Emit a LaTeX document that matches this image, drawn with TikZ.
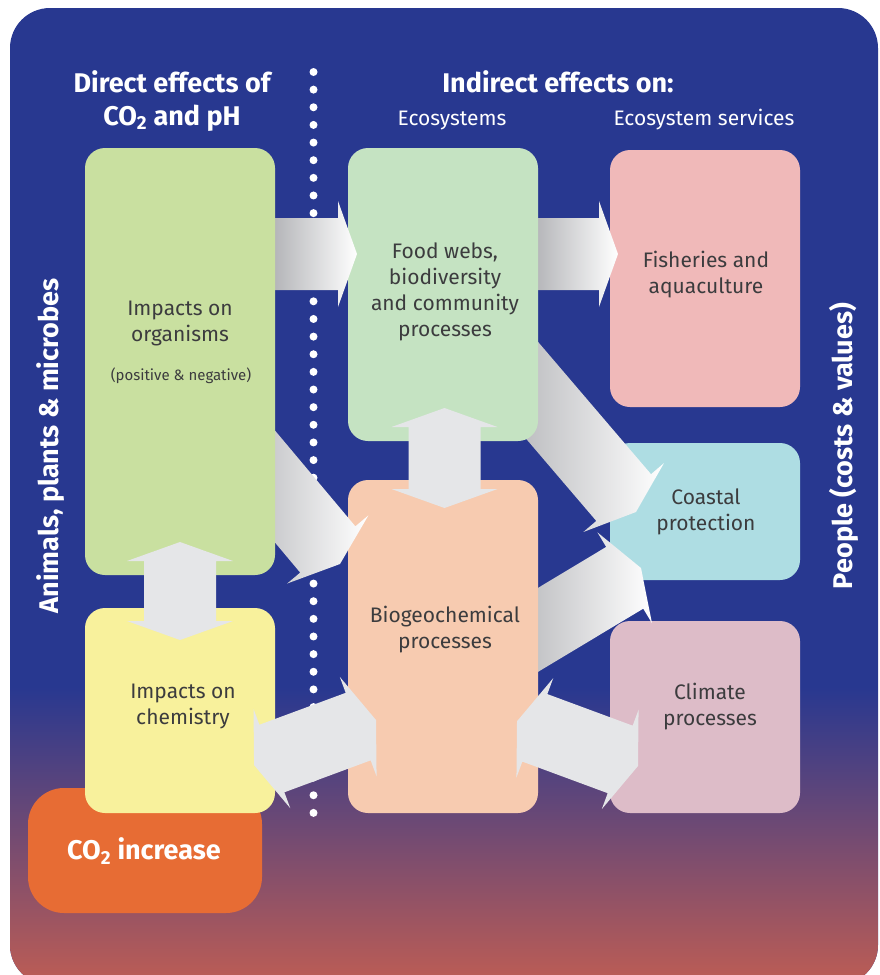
\documentclass[tikz,border=0pt]{standalone}
\usepackage{fontspec}
\setmainfont{Fira Sans}

\definecolor{oceanblue}{RGB}{40,56,144}
\definecolor{sunsetred}{RGB}{190,93,84}
\definecolor{organismgreen}{RGB}{201,224,160}
\definecolor{chemyellow}{RGB}{248,241,156}
\definecolor{cotwoorange}{RGB}{231,108,52}
\definecolor{foodwebgreen}{RGB}{197,227,194}
\definecolor{biogeopeach}{RGB}{247,203,176}
\definecolor{fisherypink}{RGB}{240,185,185}
\definecolor{coastalcyan}{RGB}{174,221,227}
\definecolor{climatemauve}{RGB}{221,188,200}
\definecolor{arrowgrey}{RGB}{229,230,232}
\definecolor{arrowshadow}{RGB}{165,166,170}
\definecolor{inkgrey}{RGB}{60,60,62}

% fat arrow outlines, tip at the origin, pointing along +x
\newcommand\onewayarrow[1]{(0,0) -- (-19,-53) -- (-19,-36) -- (-#1,-36) -- (-#1,36) -- (-19,36) -- (-19,53) -- cycle}
\newcommand\twowayarrow[1]{(0,0) -- (-19,-53) -- (-19,-36) -- (19-#1,-36) -- (19-#1,-53) -- (-#1,0) -- (19-#1,53) -- (19-#1,36) -- (-19,36) -- (-19,53) -- cycle}

\begin{document}
\begin{tikzpicture}[x=1pt, y=-1pt,
    box/.style={rounded corners=20pt, minimum width=190pt, inner sep=0pt},
    boxtext/.style={text=inkgrey, align=center, font=\fontsize{21}{26}\selectfont},
    heading/.style={text=white, align=center, font=\bfseries\fontsize{27}{33}\selectfont},
    subheading/.style={text=white, font=\fontsize{21}{26}\selectfont},
    fatarrow/.style={left color=arrowshadow, right color=white},
    twoway/.style={fill=arrowgrey}]
        \useasboundingbox (0,0) rectangle (880,975);

        % backdrop
        \fill[oceanblue, rounded corners=40pt] (10,8) rectangle (878,985);
        \begin{scope}
            \clip[rounded corners=40pt] (10,8) rectangle (878,985);
            \shade[top color=oceanblue, bottom color=sunsetred] (10,687) rectangle (878,985);
        \end{scope}

        % divider
        \draw[white, line width=8pt, line cap=round, dash pattern=on 0pt off 17.64pt] (313.5,72) -- (313.5,814);

        % headings
        \node[heading] (direct) at (172,101) {Direct effects of\\CO\textsubscript{2} and pH};
        \node[heading] (indirect) at (558,82) {Indirect effects on:};
        \node[subheading] (ecosys) at (452,120) {Ecosystems};
        \node[subheading] (services) at (704,120) {Ecosystem services};
        \node[heading, rotate=90] (animals) at (51,446) {Animals, plants \& microbes};
        \node[heading, rotate=90] (people) at (844,446) {People (costs \& values)};

        % ecosystem services
        \node[box, fill=fisherypink, minimum height=257pt] (fisheries) at (705,278.5) {};
        \node[box, fill=coastalcyan, minimum height=137pt] (coastal) at (705,511.5) {};
        \node[box, fill=climatemauve, minimum height=192pt] (climate) at (705,717) {};

        % arrow tips
        \coordinate (t1) at (357,254);
        \coordinate (t2) at (618,254);
        \coordinate (t5) at (340,564);
        \coordinate (t6) at (636,512);
        \coordinate (t7) at (641,568);

        % ecosystems -> services
        \shade[fatarrow, shift={(t2)}] \onewayarrow{100};
        \shade[fatarrow, shift={(t6)}, rotate=-49.5] \onewayarrow{215};
        \shade[fatarrow, shift={(t7)}, rotate=31] \onewayarrow{170};

        % ecosystems
        \node[box, fill=foodwebgreen, minimum height=293pt] (foodweb) at (443,294.5) {};
        \node[box, fill=biogeopeach, minimum height=333pt] (biogeo) at (443,646.5) {};

        % organisms -> ecosystems
        \shade[fatarrow, shift={(t1)}] \onewayarrow{100};
        \shade[fatarrow, shift={(t5)}, rotate=-50] \onewayarrow{170};

        % direct effects
        \node[box, fill=organismgreen, minimum height=427pt] (organisms) at (180,361.5) {};
        \node[box, fill=cotwoorange, minimum width=234pt, minimum height=125pt, rounded corners=36pt] (cotwo) at (145,850.5) {};
        \node[box, fill=chemyellow, minimum height=205pt] (chemistry) at (180,710.5) {};

        % two-way links
        \coordinate (t3) at (444.5,508);
        \coordinate (t4) at (180,640);
        \coordinate (t8) at (376,720);
        \coordinate (t9) at (638,766);
        \fill[twoway, shift={(t3)}, rotate=-90] \twowayarrow{100};
        \fill[twoway, shift={(t4)}, rotate=-90] \twowayarrow{98};
        \fill[twoway, shift={(t8)}, rotate=20.3] \twowayarrow{130};
        \fill[twoway, shift={(t9)}, rotate=-20.3] \twowayarrow{129};

        % labels
        \node[boxtext] (organisms-txt) at (180,323) {Impacts on\\organisms};
        \node[boxtext, font=\fontsize{15}{18}\selectfont] (organisms-sub) at (181,376) {(positive \& negative)};
        \node[boxtext] (chemistry-txt) at (183,706.5) {Impacts on\\chemistry};
        \node[heading] (cotwo-txt) at (144,851) {CO\textsubscript{2} increase};
        \node[boxtext] (foodweb-txt) at (445,291.5) {Food webs,\\biodiversity\\and community\\processes};
        \node[boxtext] (biogeo-txt) at (445,630) {Biogeochemical\\processes};
        \node[boxtext] (fisheries-txt) at (706,274.5) {Fisheries and\\aquaculture};
        \node[boxtext] (coastal-txt) at (706,511.5) {Coastal\\protection};
        \node[boxtext] (climate-txt) at (710,706.5) {Climate\\processes};
    \end{tikzpicture}
\end{document}
